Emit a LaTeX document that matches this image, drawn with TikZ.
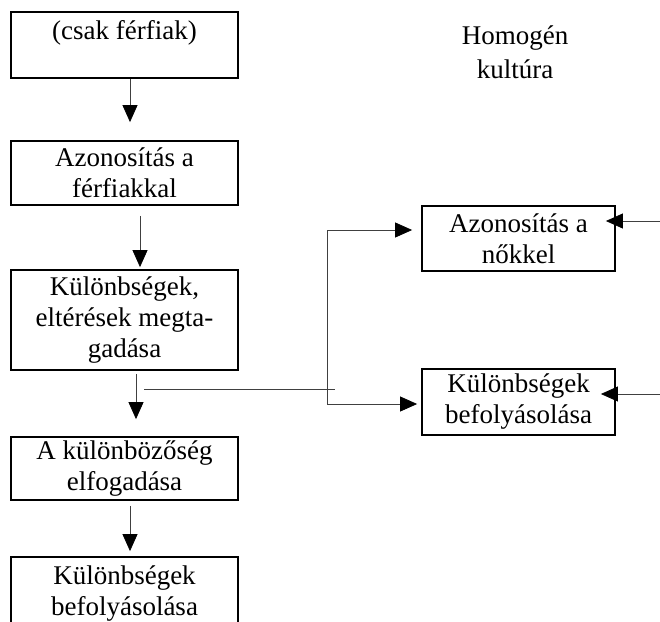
\documentclass[tikz,border=0pt]{standalone}
\usepackage{fontspec}
\setmainfont{Liberation Serif}
\usetikzlibrary{arrows.meta}

\begin{document}
\begin{tikzpicture}[x=1pt,y=-1pt,
    doboz/.style={draw,line width=1.8pt,minimum width=227pt,inner sep=0pt,
      align=center,font=\fontsize{27}{31}\selectfont},
    szoveg/.style={align=center,font=\fontsize{27}{31}\selectfont},
    hegy/.tip={Triangle[length=17pt,width=15pt,color=black]},
    nyil/.style={-hegy,line width=0.8pt,draw=black!75}]
  \useasboundingbox (0,0) rectangle (660,621);
  % bal oszlop
  \node[doboz,minimum height=66pt] (b1) at (124.5,45) {(csak férfiak)\\\mbox{}};
  \node[doboz,minimum height=64pt] (b2) at (124.5,173) {Azonosítás a\\férfiakkal};
  \node[doboz,minimum height=100pt] (b3) at (124.5,320) {Különbségek,\\eltérések megta-\\gadása};
  \node[doboz,minimum height=63pt] (b4) at (124.5,468.5) {A különbözőség\\elfogadása};
  \node[doboz,minimum height=73pt] (b5) at (124.5,593.5) {Különbségek\\befolyásolása};
  % jobb oszlop
  \node[szoveg] (cim) at (515,52) {Homogén\\[3pt]kultúra};
  \node[doboz,minimum width=193pt,minimum height=65pt] (r1) at (518.5,238.5) {Azonosítás a\\nőkkel};
  \node[doboz,minimum width=193pt,minimum height=66pt] (r2) at (518.5,402) {Különbségek\\befolyásolása};

  \draw[nyil,shorten >=18pt] ([xshift=5.5pt]b1.south) -- ([xshift=5.5pt]b2.north);
  \draw[nyil,shorten <=10pt,shorten >=2pt] ([xshift=15.5pt]b2.south) -- ([xshift=15.5pt]b3.north);
  \draw[nyil,shorten <=3pt,shorten >=17pt] ([xshift=11.5pt]b3.south) -- ([xshift=11.5pt]b4.north);
  \draw[nyil,shorten <=5pt,shorten >=5pt] ([xshift=5.5pt]b4.south) -- ([xshift=5.5pt]b5.north);

  \coordinate (vonal1) at (144,389);
  \coordinate (vonal2) at (335,389);
  \draw[line width=0.8pt,draw=black!75] (vonal1) -- (vonal2);
  \coordinate (sarok) at (327,230);
  \draw[nyil,hegy-hegy]
    ([shift={(-9pt,8.5pt)}]r1.west) -- (sarok) |- ([shift={(-4pt,-2pt)}]r2.west);

  \coordinate (jobb1) at (660,221);
  \coordinate (jobb2) at (660,394);
  \draw[nyil] (jobb1) -- ([shift={(-10pt,17.5pt)}]r1.east);
  \draw[nyil] (jobb2) -- ([shift={(-15pt,8pt)}]r2.east);
\end{tikzpicture}
\end{document}
